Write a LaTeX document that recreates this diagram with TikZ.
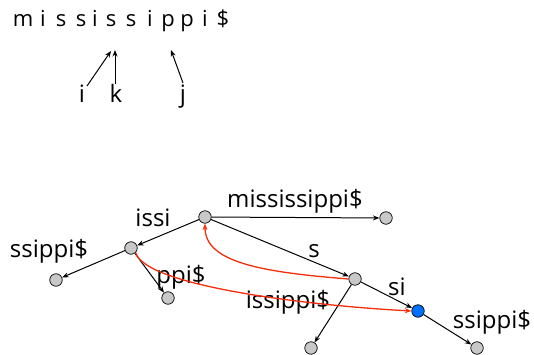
\documentclass[tikz,border=0pt]{standalone}
\usepackage{fontspec}
\setmainfont{Open Sans}
\usetikzlibrary{arrows.meta}
\definecolor{nodegray}{RGB}{200,200,200}
\definecolor{hotblue}{RGB}{0,112,255}
\definecolor{linkred}{RGB}{245,45,10}
\tikzset{
  vert/.style={circle,draw=black,line width=0.7pt,fill=nodegray,minimum size=12.5pt,inner sep=0pt},
  curvert/.style={vert,fill=hotblue},
  edge/.style={line width=1pt,-{Stealth[length=6.5pt,width=5pt]}},
  slink/.style={line width=1.3pt,draw=linkred,-{Stealth[length=6.5pt,width=5pt]},linkred},
  lbl/.style={anchor=base,inner sep=0pt,font=\fontsize{24}{28}\selectfont},
  chr/.style={anchor=base,inner sep=0pt,font=\fontsize{22}{26}\selectfont},
}
\begin{document}
\begin{tikzpicture}[x=1pt,y=-1pt]
\path[use as bounding box] (0,0) rectangle (534,355);

% the text, one letter per node
\foreach \ch/\cx [count=\n] in {m/23,i/43,s/61,s/81,i/95,s/111,s/131,i/150,p/168,p/187,i/205,\$/223}
  \node[chr] (c\n) at (\cx,27) {\ch};

% pointers into the text
\node[lbl] (pi) at (82,103) {i};
\node[lbl] (pk) at (116,103) {k};
\node[lbl] (pj) at (183,103) {j};
\coordinate (ti) at (111,51);
\coordinate (tk) at (115,50);
\coordinate (tj) at (171,50);
\coordinate (fi) at (87,86);
\coordinate (fk) at (115,84);
\coordinate (fj) at (183,83);
\draw[edge] (fi) -- (ti);
\draw[edge] (fk) -- (tk);
\draw[edge] (fj) -- (tj);

% suffix tree vertices
\node[vert] (R)  at (205,217) {};
\node[vert] (L1) at (386,218) {};
\node[vert] (A)  at (131,248) {};
\node[vert] (L2) at (56,280) {};
\node[vert] (L3) at (168,298) {};
\node[vert] (S)  at (355,279) {};
\node[curvert] (B) at (418,311) {};
\node[vert] (L4) at (477,348) {};
\node[vert] (L5) at (311,348) {};

% tree edges
\draw[edge] (R) -- (L1);
\draw[edge] (R) -- (A);
\draw[edge] (A) -- (L2);
\draw[edge] (A) -- (L3);
\draw[edge] (R) -- (S);
\draw[edge] (S) -- (B);
\draw[edge] (B) -- (L4);
\draw[edge] (S) -- (L5);

% edge labels
\node[lbl] (eissi) at (153,226) {issi};
\node[lbl] (essippiA) at (49,257) {ssippi\$};
\node[lbl] (eppi) at (181,283) {ppi\$};
\node[lbl] (emiss) at (295,207) {mississippi\$};
\node[lbl] (es) at (314,257) {s};
\node[lbl] (esi) at (397,295) {si};
\node[lbl] (eissippi) at (288,308) {issippi\$};
\node[lbl] (essippiB) at (492,328) {ssippi\$};

% suffix links
\draw[slink] (S.west) .. controls (260,272) and (205,262) .. (R.south);
\draw[slink] (A.south east) .. controls (145,285) and (300,305) .. (B.west);
\end{tikzpicture}
\end{document}
